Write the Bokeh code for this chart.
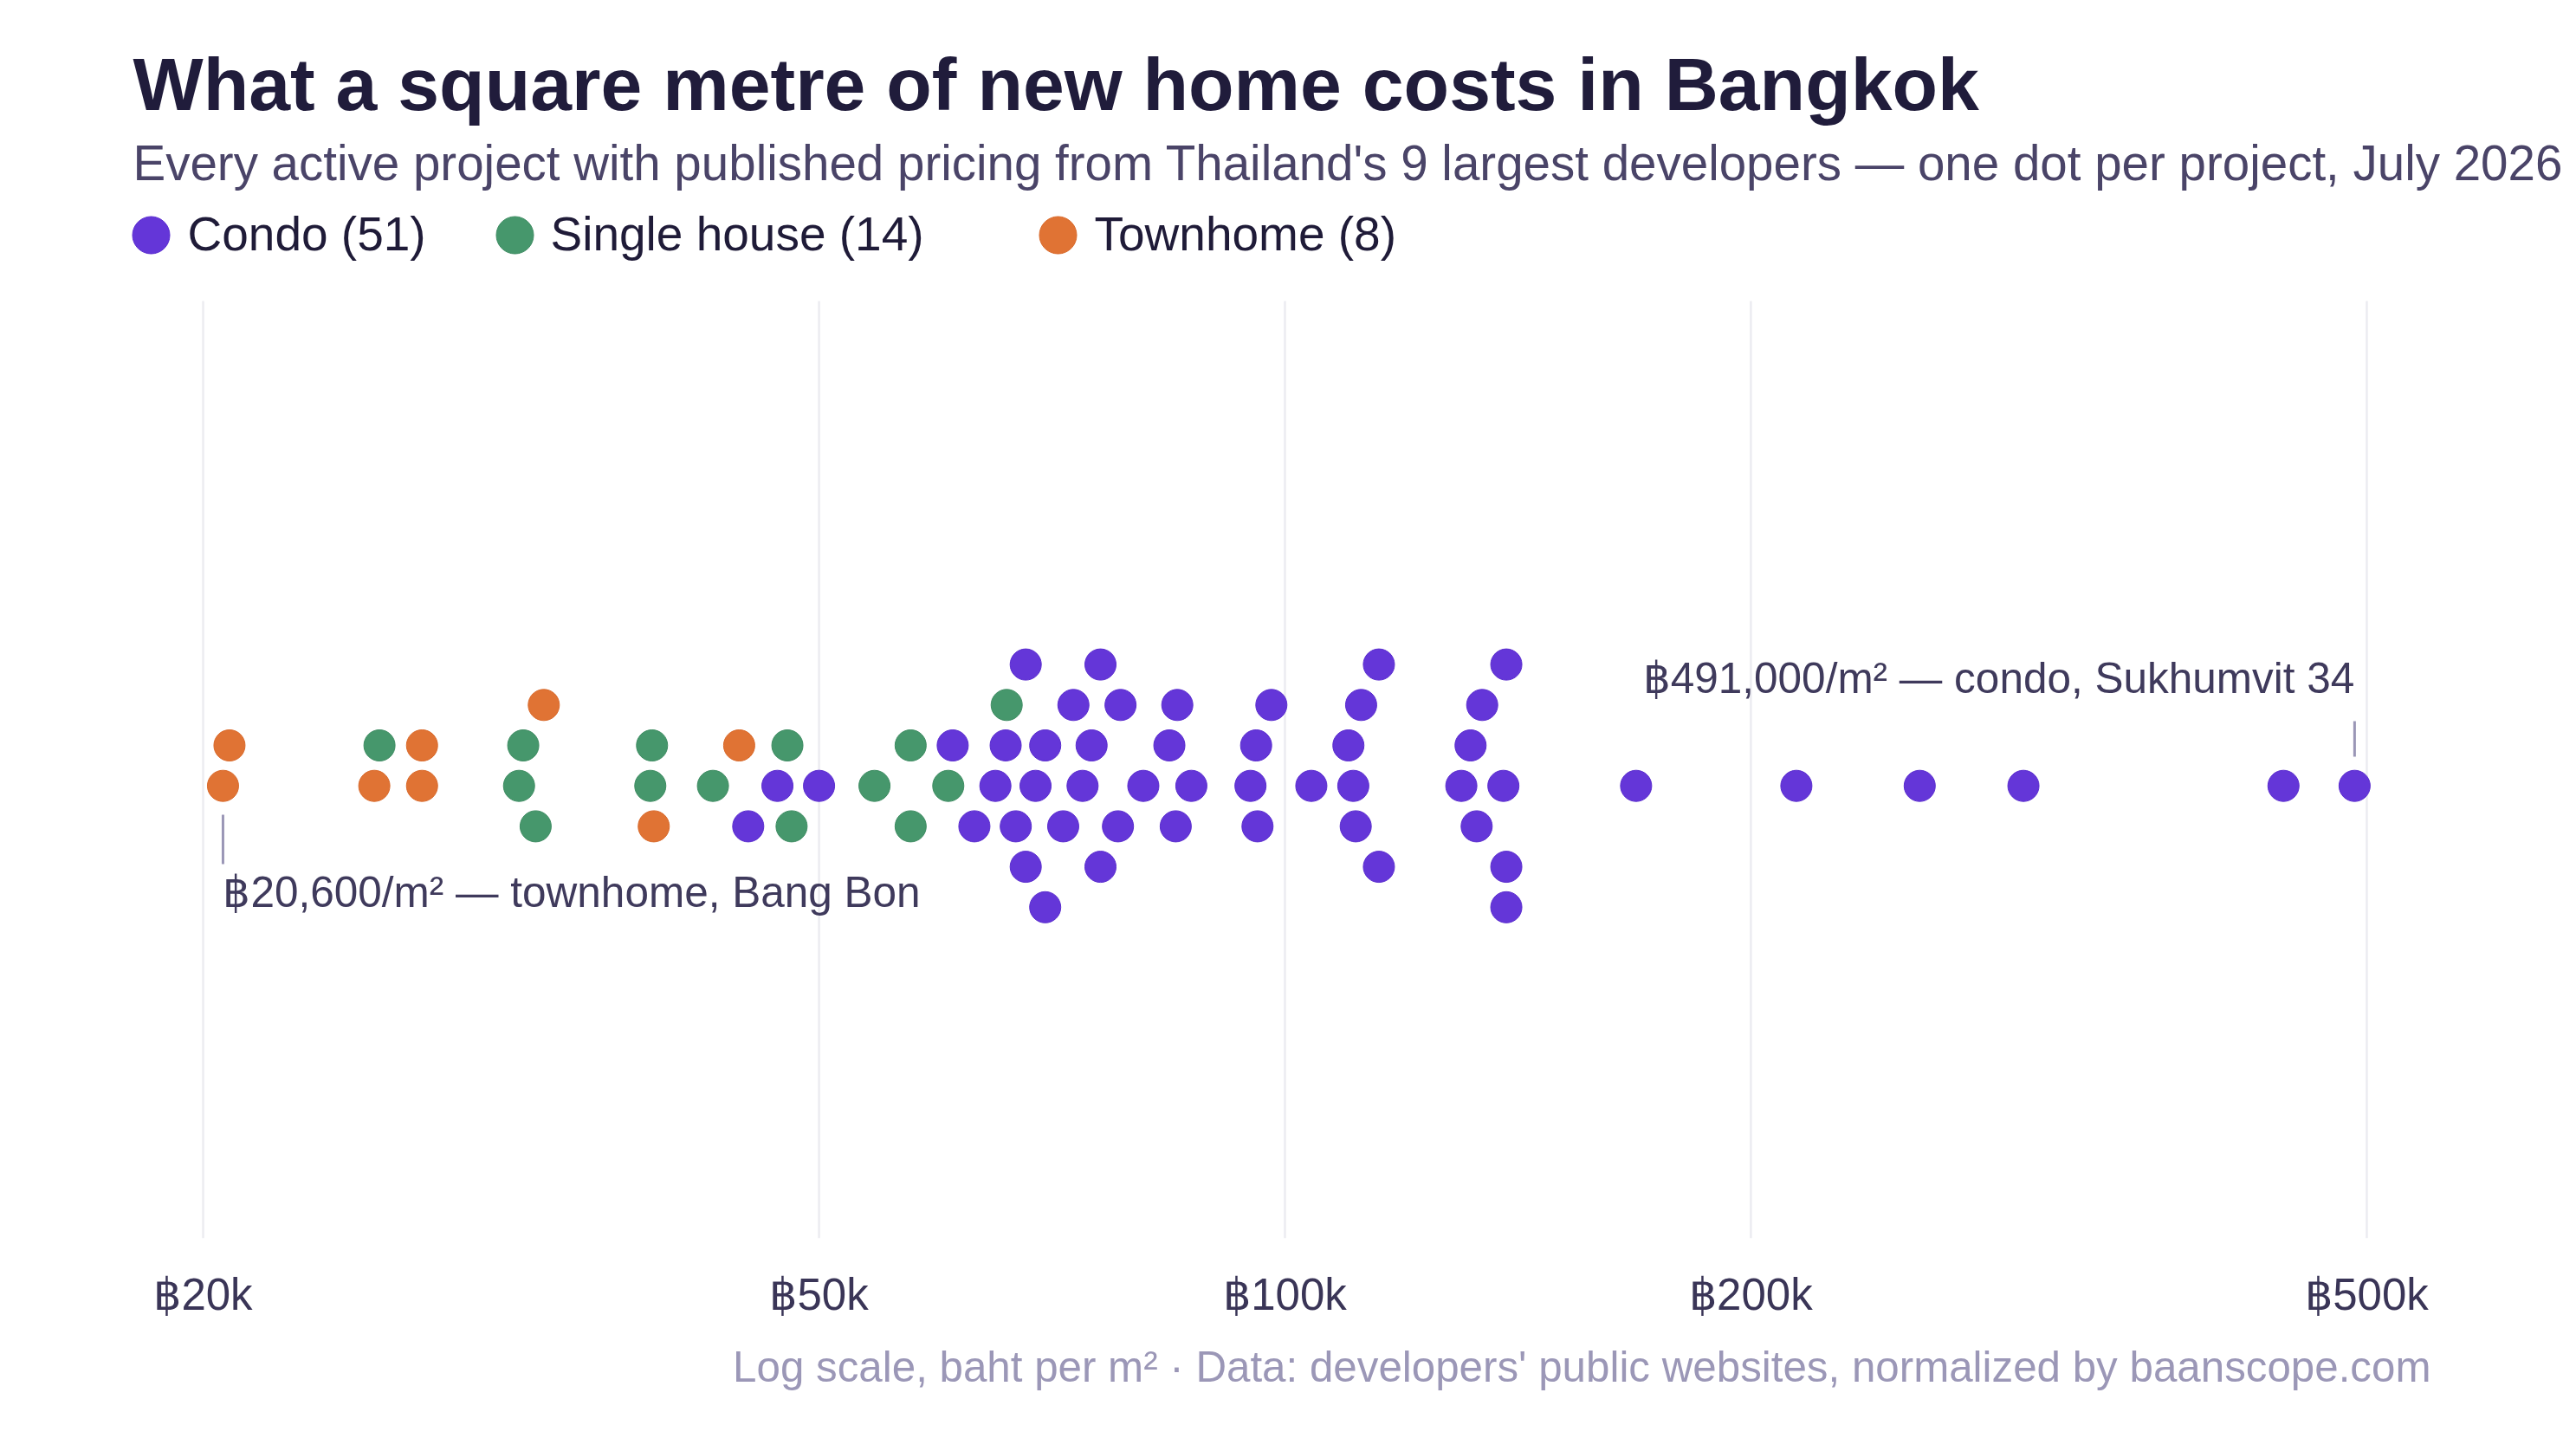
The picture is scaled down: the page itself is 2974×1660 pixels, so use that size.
import math
from bokeh.plotting import figure
from bokeh.layouts import column
from bokeh.models import Range1d, FixedTicker, Label
from bokeh.embed import file_html
from bokeh.resources import INLINE

# ---------------- data (baht per square metre, one value per project) ----------------
categories = ["Condo", "Single house", "Townhome"]
condo = [45000, 47000, 50000, 61000, 63000, 65000, 66000, 67000, 68000, 68000,
         69000, 70000, 70000, 71900, 73000, 74000, 75000, 76000, 76000, 78000,
         78300, 81000, 84200, 85000, 85200, 87000, 95000, 95800, 96000, 98000,
         104000, 109900, 110700, 111100, 112000, 115000, 115000, 130000, 131800, 133000,
         134100, 138400, 139000, 139000, 139000, 168600, 214000, 257100, 300000, 441700,
         491000]
single_house = [26000, 32000, 32200, 32800, 38900, 39000, 42700, 47700, 48000, 54300,
                57300, 57300, 60600, 66100]
townhome = [20600, 20800, 25800, 27700, 27700, 33200, 39100, 44400]
series = [condo, single_house, townhome]
colors = ["#6436d8", "#46976c", "#e07334"]
edge_colors = ["#5a2ccf", "#3e8c62", "#d9692a"]

tick_values = [20000, 50000, 100000, 200000, 500000]
tick_labels = ["฿20k", "฿50k", "฿100k", "฿200k", "฿500k"]

low_note = "townhome, Bang Bon"
high_note = "condo, Sukhumvit 34"

# ---------------- layout constants (pixels) ----------------
W, H = 2974, 1660
FRAME_BOTTOM = 1429
MAIN_H = 1530
X0_PX, X0_VAL, PX_PER_DEC = 234, 20000, 1786.9
CENTER_Y = 906.7
ROW_PX = 46.7
DOT = 36
MIN_GAP_PX = 45.1
GRID_TOP = 347
LEFT = 153
FONT = "Liberation Sans"
K_BASE = 0.33  # label baseline correction (fraction of font size)


def px_to_x(px):
    return X0_VAL * 10 ** ((px - X0_PX) / PX_PER_DEC)


def by(baseline, size):
    return baseline - K_BASE * size


p = figure(width=W, height=MAIN_H, output_backend="svg", toolbar_location=None,
           x_axis_type="log", y_axis_location=None,
           x_range=Range1d(px_to_x(0), px_to_x(W)),
           y_range=Range1d(FRAME_BOTTOM, 0),
           min_border_left=0, min_border_right=0, min_border_top=0,
           min_border_bottom=MAIN_H - FRAME_BOTTOM)
p.outline_line_color = None
p.background_fill_color = "white"
p.border_fill_color = "white"
p.xgrid.visible = False
p.ygrid.visible = False

# axis
ax = p.xaxis[0]
ax.ticker = FixedTicker(ticks=tick_values, minor_ticks=[])
ax.major_label_overrides = {v: s for v, s in zip(tick_values, tick_labels)}
ax.axis_line_color = None
ax.major_tick_line_color = None
ax.minor_tick_line_color = None
ax.major_tick_out = 0
ax.major_tick_in = 0
ax.major_label_standoff = 36
ax.major_label_text_font = FONT
ax.major_label_text_font_size = "51px"
ax.major_label_text_color = "#3a3557"

# grid lines
p.segment(x0=tick_values, x1=tick_values, y0=[GRID_TOP] * len(tick_values),
          y1=[FRAME_BOTTOM] * len(tick_values), line_color="#ececf1", line_width=2.5)

# ---------------- beeswarm placement ----------------
gap = MIN_GAP_PX / PX_PER_DEC
items = []
for ci, vals in enumerate(series):
    for v in vals:
        items.append((v, ci))
order = sorted(range(len(items)), key=lambda i: items[i][0])
placed = {}
row_of = [0] * len(items)
for i in order:
    lx = math.log10(items[i][0])
    k = 0
    while True:
        r = 0 if k == 0 else ((k + 1) // 2 if k % 2 == 1 else -(k // 2))
        if all(abs(lx - o) >= gap for o in placed.get(r, [])):
            placed.setdefault(r, []).append(lx)
            row_of[i] = r
            break
        k += 1

for ci in range(len(series)):
    xs = [items[i][0] for i in range(len(items)) if items[i][1] == ci]
    ys = [CENTER_Y - row_of[i] * ROW_PX for i in range(len(items)) if items[i][1] == ci]
    p.scatter(x=xs, y=ys, size=DOT, fill_color=colors[ci], line_color=edge_colors[ci],
              line_width=1)

# ---------------- annotations for extremes ----------------
vmin = min(townhome)
vmax = max(condo)
p.segment(x0=[vmin], x1=[vmin], y0=[940], y1=[997], line_color="#9a96b6", line_width=3)
p.segment(x0=[vmax], x1=[vmax], y0=[832], y1=[873], line_color="#9a96b6", line_width=3)
p.add_layout(Label(x=vmin, y=by(1045, 49.5), text=f"฿{vmin:,}/m² — {low_note}", text_align="left",
                   text_baseline="alphabetic", text_font=FONT, text_font_size="49.5px",
                   text_color="#3f3a5c"))
p.add_layout(Label(x=vmax, y=by(798, 49.5), text=f"฿{vmax:,}/m² — {high_note}", text_align="right",
                   text_baseline="alphabetic", text_font=FONT, text_font_size="49.5px",
                   text_color="#3f3a5c"))

# ---------------- header ----------------
p.add_layout(Label(x=px_to_x(LEFT), y=by(125, 86), text="What a square metre of new home costs in Bangkok",
                   text_baseline="alphabetic", text_font=FONT, text_font_size="86px",
                   text_font_style="bold", text_color="#201c3b"))
p.add_layout(Label(x=px_to_x(LEFT), y=by(207, 56.5),
                   text="Every active project with published pricing from Thailand's 9 largest developers — one dot per project, July 2026",
                   text_baseline="alphabetic", text_font=FONT, text_font_size="56.5px",
                   text_color="#4a4468"))

legend_dot_px = [174, 594, 1221]
legend_text_px = [216, 635, 1263]
p.scatter(x=[px_to_x(v) for v in legend_dot_px], y=[271] * 3, size=43,
          fill_color=colors, line_color=edge_colors, line_width=1)
for ci, name in enumerate(categories):
    p.add_layout(Label(x=px_to_x(legend_text_px[ci]), y=by(288, 55), text=f"{name} ({len(series[ci])})",
                       text_baseline="alphabetic", text_font=FONT, text_font_size="55px",
                       text_color="#1f1b38"))

# ---------------- footer (separate strip below the axis) ----------------
FOOT_H = H - MAIN_H
f = figure(width=W, height=FOOT_H, output_backend="svg", toolbar_location=None,
           x_axis_type="log", x_axis_location=None, y_axis_location=None,
           x_range=p.x_range, y_range=Range1d(FOOT_H, 0),
           min_border_left=0, min_border_right=0, min_border_top=0, min_border_bottom=0)
f.outline_line_color = None
f.border_fill_color = "white"
f.background_fill_color = "white"
f.xgrid.visible = False
f.ygrid.visible = False
f.add_layout(Label(x=px_to_x(2806), y=by(1593 - MAIN_H, 49.3),
                   text="Log scale, baht per m² · Data: developers' public websites, normalized by baanscope.com",
                   text_align="right", text_baseline="alphabetic", text_font=FONT,
                   text_font_size="49.3px", text_color="#9b97b7"))

layout = column(p, f, spacing=0)
open("out.html", "w").write(file_html(layout, INLINE))
